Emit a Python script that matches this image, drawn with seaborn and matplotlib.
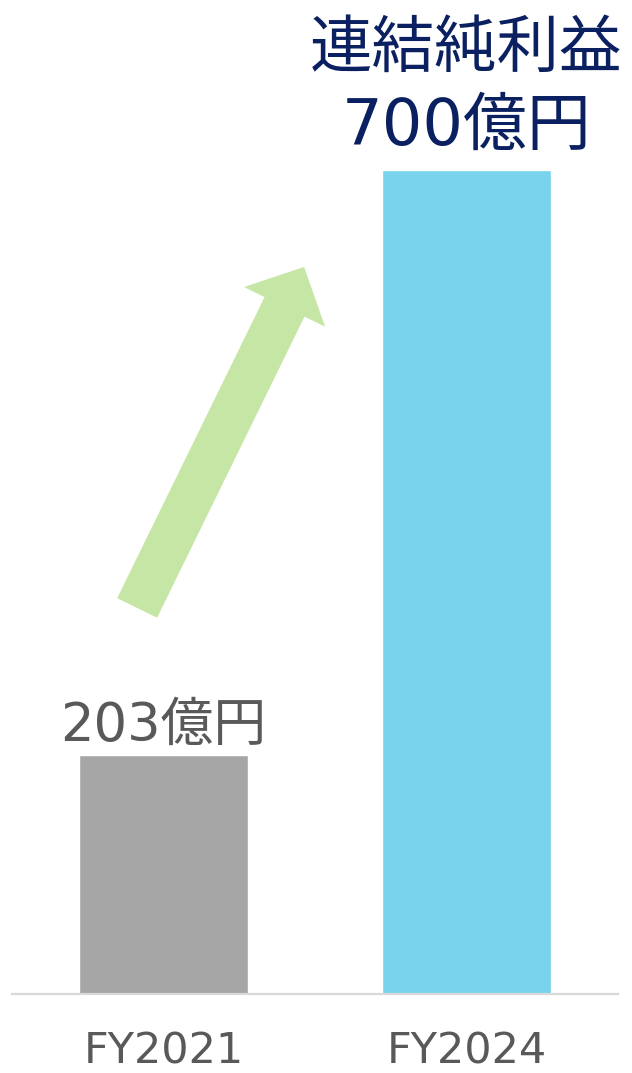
import matplotlib
matplotlib.use("Agg")
import matplotlib.pyplot as plt
import seaborn as sns
import pandas as pd

# Consolidated net profit (100 million yen)
years = ["FY2021", "FY2024"]
profits = [203, 700]
value_labels = ["203億円", "700億円"]
headline = "連結純利益"
bar_colors = ["#A6A6A6", "#77D4EC"]

sns.set_theme(style="white")
plt.rcParams["font.family"] = ["DejaVu Sans", "Noto Sans CJK JP"]

df = pd.DataFrame({"year": years, "profit": profits})

fig = plt.figure(figsize=(6.32, 10.73), dpi=100)
ax = fig.add_axes([12 / 632, 79 / 1073, 606 / 632, 994 / 1073])

sns.barplot(data=df, x="year", y="profit", hue="year", palette=bar_colors,
            width=0.558, legend=False, ax=ax, saturation=1)

ax.set_xlim(-0.5, 1.5)
ax.set_ylim(0, 844.5)
ax.set_xlabel("")
ax.set_ylabel("")
ax.set_yticks([])
for side in ["top", "right", "left"]:
    ax.spines[side].set_visible(False)
ax.spines["bottom"].set_color("#D9D9D9")
ax.spines["bottom"].set_linewidth(1.6)
ax.tick_params(axis="x", length=0, pad=26, labelsize=31, labelcolor="#595959")

# value labels above the bars
ax.annotate(value_labels[0], xy=(0, profits[0]), xytext=(0, 10),
            textcoords="offset points", ha="center", va="baseline",
            fontsize=38, color="#595959")
ax.annotate(value_labels[1], xy=(1, profits[1]), xytext=(0, 18),
            textcoords="offset points", ha="center", va="baseline",
            fontsize=46, color="#0A2060")
ax.annotate(headline, xy=(1, profits[1]), xytext=(0, 74),
            textcoords="offset points", ha="center", va="baseline",
            fontsize=45, color="#0A2060", family=["Noto Sans CJK JP"])

# growth arrow between the two years
ax.annotate("", xy=(0.464, 617.7), xytext=(-0.087, 328),
            arrowprops=dict(arrowstyle="simple,head_length=3.2,head_width=6.5,tail_width=3.2",
                            mutation_scale=10, color="#C6E6A6", lw=0,
                            shrinkA=0, shrinkB=0))

fig.savefig("out.png", dpi=100)
